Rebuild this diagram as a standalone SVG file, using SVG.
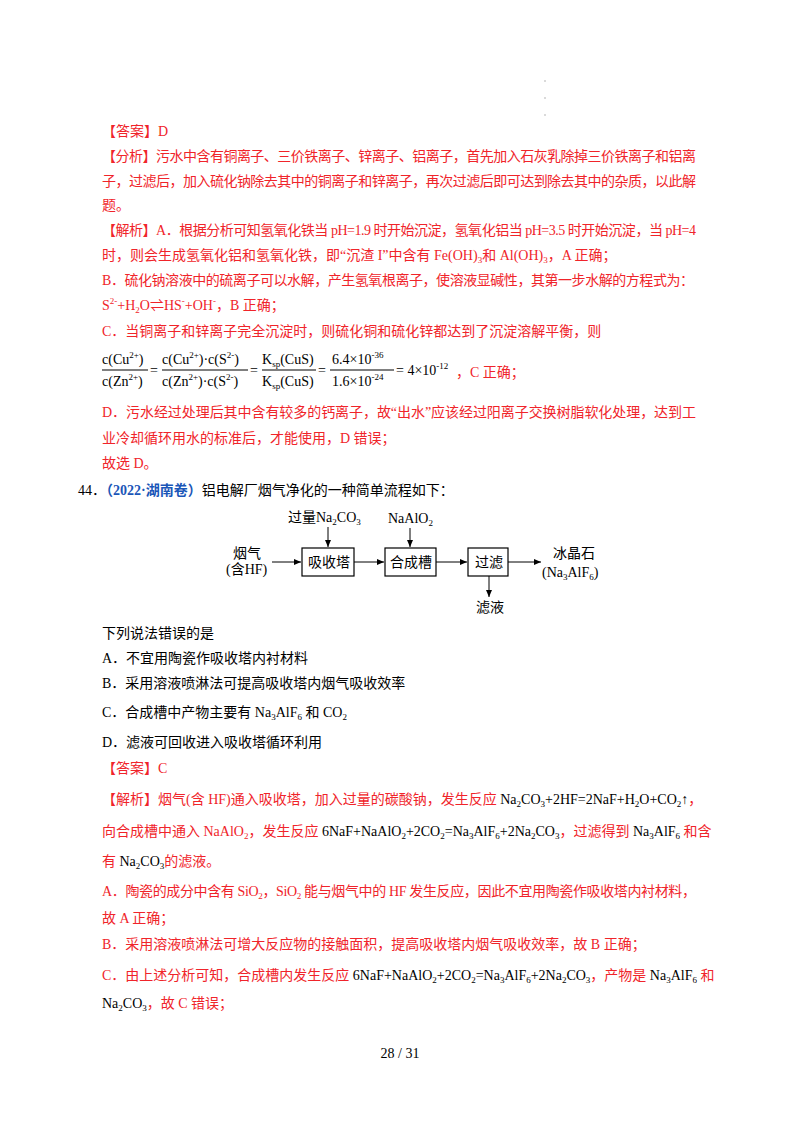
<svg xmlns="http://www.w3.org/2000/svg" width="800" height="1132" viewBox="0 0 800 1132">
<style>
text{font-family:"Liberation Serif","Noto Sans CJK SC",serif;font-size:14px;fill:#000}
.r{fill:#f0242a}
.b{fill:#1a56b8;font-weight:bold}
.s{font-size:9px}
.box{fill:none;stroke:#000;stroke-width:1.2}
.ln{stroke:#000;stroke-width:1;fill:none}
</style>
<defs><marker id="a" markerWidth="8" markerHeight="8" refX="7" refY="4" orient="auto" markerUnits="userSpaceOnUse"><path d="M0,1 L7,4 L0,7 Z" fill="#000"/></marker></defs>
<rect width="800" height="1132" fill="#fff"/>
<g fill="#999"><circle cx="545" cy="81" r="0.7"/><circle cx="545" cy="98" r="0.7"/><circle cx="545" cy="115" r="0.7"/></g>

<g id="text1">
<text class="r" x="102" y="136">【答案】D</text>
<text class="r" x="102" y="161" textLength="594">【分析】污水中含有铜离子、三价铁离子、锌离子、铝离子，首先加入石灰乳除掉三价铁离子和铝离</text>
<text class="r" x="102" y="186" textLength="594">子，过滤后，加入硫化钠除去其中的铜离子和锌离子，再次过滤后即可达到除去其中的杂质，以此解</text>
<text class="r" x="102" y="210">题。</text>
<text class="r" x="102" y="235" textLength="594">【解析】A．根据分析可知氢氧化铁当 pH=1.9 时开始沉淀，氢氧化铝当 pH=3.5 时开始沉淀，当 pH=4</text>
<text class="r" x="102" y="260">时，则会生成氢氧化铝和氢氧化铁，即“沉渣 I”中含有 Fe(OH)<tspan class="s" dy="3">3</tspan><tspan dy="-3">和 Al(OH)</tspan><tspan class="s" dy="3">3</tspan><tspan dy="-3">，A 正确；</tspan></text>
<text class="r" x="102" y="285" textLength="592">B．硫化钠溶液中的硫离子可以水解，产生氢氧根离子，使溶液显碱性，其第一步水解的方程式为：</text>
<text class="r" x="102" y="310">S<tspan class="s" dy="-6">2-</tspan><tspan dy="6">+H</tspan><tspan class="s" dy="3">2</tspan><tspan dy="-3">O⇌HS</tspan><tspan class="s" dy="-6">-</tspan><tspan dy="6">+OH</tspan><tspan class="s" dy="-6">-</tspan><tspan dy="6">，B 正确；</tspan></text>
<text class="r" x="102" y="336">C．当铜离子和锌离子完全沉淀时，则硫化铜和硫化锌都达到了沉淀溶解平衡，则</text>
</g>

<g id="formula">
<text x="102" y="364">c(Cu<tspan class="s" dy="-6">2+</tspan><tspan dy="6">)</tspan></text>
<text x="102" y="386">c(Zn<tspan class="s" dy="-6">2+</tspan><tspan dy="6">)</tspan></text>
<line class="ln" x1="102" y1="370" x2="148" y2="370"/>
<text x="150" y="375">=</text>
<text x="162" y="364">c(Cu<tspan class="s" dy="-6">2+</tspan><tspan dy="6">)·c(S</tspan><tspan class="s" dy="-6">2-</tspan><tspan dy="6">)</tspan></text>
<text x="162" y="386">c(Zn<tspan class="s" dy="-6">2+</tspan><tspan dy="6">)·c(S</tspan><tspan class="s" dy="-6">2-</tspan><tspan dy="6">)</tspan></text>
<line class="ln" x1="162" y1="370" x2="248" y2="370"/>
<text x="250" y="375">=</text>
<text x="262" y="364">K<tspan class="s" dy="3">sp</tspan><tspan dy="-3">(CuS)</tspan></text>
<text x="262" y="386">K<tspan class="s" dy="3">sp</tspan><tspan dy="-3">(CuS)</tspan></text>
<line class="ln" x1="262" y1="370" x2="316" y2="370"/>
<text x="318" y="375">=</text>
<text x="332" y="364">6.4×10<tspan class="s" dy="-6">-36</tspan></text>
<text x="332" y="386">1.6×10<tspan class="s" dy="-6">-24</tspan></text>
<line class="ln" x1="330" y1="370" x2="394" y2="370"/>
<text x="396" y="375">= 4×10<tspan class="s" dy="-6">-12</tspan></text>
<text class="r" x="456" y="377">，C 正确；</text>
</g>

<g id="text2">
<text class="r" x="102" y="417" textLength="594">D．污水经过处理后其中含有较多的钙离子，故“出水”应该经过阳离子交换树脂软化处理，达到工</text>
<text class="r" x="102" y="443">业冷却循环用水的标准后，才能使用，D 错误；</text>
<text class="r" x="102" y="468">故选 D。</text>
<text x="78" y="495">44．<tspan class="b">（2022·湖南卷）</tspan>铝电解厂烟气净化的一种简单流程如下：</text>
</g>

<g id="n1"><text x="288" y="522" font-size="13">过量Na<tspan class="s" dy="3">2</tspan><tspan dy="-3">CO</tspan><tspan class="s" dy="3">3</tspan></text></g>
<g id="n2"><text x="388" y="523" font-size="13">NaAlO<tspan class="s" dy="3">2</tspan></text></g>
<g id="n3"><text x="233" y="558" font-size="13">烟气</text><text x="226" y="574" font-size="13">(含HF)</text></g>
<g id="n4"><rect class="box" x="302" y="548" width="52" height="28"/><text x="308" y="567" font-size="13">吸收塔</text></g>
<g id="n5"><rect class="box" x="385" y="548" width="51" height="28"/><text x="390" y="567" font-size="13">合成槽</text></g>
<g id="n6"><rect class="box" x="468" y="548" width="40" height="28"/><text x="475" y="567" font-size="13">过滤</text></g>
<g id="n7"><text x="553" y="558" font-size="13">冰晶石</text><text x="542" y="577" font-size="13">(Na<tspan class="s" dy="3">3</tspan><tspan dy="-3">AlF</tspan><tspan class="s" dy="3">6</tspan><tspan dy="-3">)</tspan></text></g>
<g id="n8"><text x="476" y="612" font-size="13">滤液</text></g>
<g id="connectors">
<line class="ln" x1="328" y1="527" x2="328" y2="547" marker-end="url(#a)"/>
<line class="ln" x1="410" y1="528" x2="410" y2="547" marker-end="url(#a)"/>
<line class="ln" x1="272" y1="562" x2="301" y2="562" marker-end="url(#a)"/>
<line class="ln" x1="354" y1="562" x2="384" y2="562" marker-end="url(#a)"/>
<line class="ln" x1="436" y1="562" x2="467" y2="562" marker-end="url(#a)"/>
<line class="ln" x1="508" y1="562" x2="541" y2="562" marker-end="url(#a)"/>
<line class="ln" x1="489" y1="576" x2="489" y2="597" marker-end="url(#a)"/>
</g>

<g id="text3">
<text x="102" y="638">下列说法错误的是</text>
<text x="102" y="663">A．不宜用陶瓷作吸收塔内衬材料</text>
<text x="102" y="688">B．采用溶液喷淋法可提高吸收塔内烟气吸收效率</text>
<text x="102" y="717">C．合成槽中产物主要有 Na<tspan class="s" dy="3">3</tspan><tspan dy="-3">AlF</tspan><tspan class="s" dy="3">6</tspan><tspan dy="-3"> 和 CO</tspan><tspan class="s" dy="3">2</tspan></text>
<text x="102" y="747">D．滤液可回收进入吸收塔循环利用</text>
<text class="r" x="102" y="773">【答案】C</text>
<text x="102" y="804"><tspan class="r">【解析】烟气(含 HF)通入吸收塔，加入过量的碳酸钠，发生反应 </tspan>Na<tspan class="s" dy="3">2</tspan><tspan dy="-3">CO</tspan><tspan class="s" dy="3">3</tspan><tspan dy="-3">+2HF=2NaF+H</tspan><tspan class="s" dy="3">2</tspan><tspan dy="-3">O+CO</tspan><tspan class="s" dy="3">2</tspan><tspan dy="-3">↑</tspan><tspan class="r">，</tspan></text>
<text x="102" y="836"><tspan class="r">向合成槽中通入 NaAlO</tspan><tspan class="s r" dy="3">2</tspan><tspan class="r" dy="-3">，发生反应 </tspan>6NaF+NaAlO<tspan class="s" dy="3">2</tspan><tspan dy="-3">+2CO</tspan><tspan class="s" dy="3">2</tspan><tspan dy="-3">=Na</tspan><tspan class="s" dy="3">3</tspan><tspan dy="-3">AlF</tspan><tspan class="s" dy="3">6</tspan><tspan dy="-3">+2Na</tspan><tspan class="s" dy="3">2</tspan><tspan dy="-3">CO</tspan><tspan class="s" dy="3">3</tspan><tspan class="r" dy="-3">，过滤得到 </tspan>Na<tspan class="s" dy="3">3</tspan><tspan dy="-3">AlF</tspan><tspan class="s" dy="3">6</tspan><tspan class="r" dy="-3"> 和含</tspan></text>
<text x="102" y="866"><tspan class="r">有 </tspan>Na<tspan class="s" dy="3">2</tspan><tspan dy="-3">CO</tspan><tspan class="s" dy="3">3</tspan><tspan class="r" dy="-3">的滤液。</tspan></text>
<text class="r" x="102" y="896" textLength="594">A．陶瓷的成分中含有 SiO<tspan class="s" dy="3">2</tspan><tspan dy="-3">，SiO</tspan><tspan class="s" dy="3">2</tspan><tspan dy="-3"> 能与烟气中的 HF 发生反应，因此不宜用陶瓷作吸收塔内衬材料，</tspan></text>
<text class="r" x="102" y="923">故 A 正确；</text>
<text class="r" x="102" y="949">B．采用溶液喷淋法可增大反应物的接触面积，提高吸收塔内烟气吸收效率，故 B 正确；</text>
<text x="102" y="980"><tspan class="r">C．由上述分析可知，合成槽内发生反应 </tspan>6NaF+NaAlO<tspan class="s" dy="3">2</tspan><tspan dy="-3">+2CO</tspan><tspan class="s" dy="3">2</tspan><tspan dy="-3">=Na</tspan><tspan class="s" dy="3">3</tspan><tspan dy="-3">AlF</tspan><tspan class="s" dy="3">6</tspan><tspan dy="-3">+2Na</tspan><tspan class="s" dy="3">2</tspan><tspan dy="-3">CO</tspan><tspan class="s" dy="3">3</tspan><tspan class="r" dy="-3">，产物是 </tspan>Na<tspan class="s" dy="3">3</tspan><tspan dy="-3">AlF</tspan><tspan class="s" dy="3">6</tspan><tspan class="r" dy="-3"> 和</tspan></text>
<text x="102" y="1008">Na<tspan class="s" dy="3">2</tspan><tspan dy="-3">CO</tspan><tspan class="s" dy="3">3</tspan><tspan class="r" dy="-3">，故 C 错误；</tspan></text>
<text x="400" y="1058" text-anchor="middle">28 / 31</text>
</g>
</svg>
